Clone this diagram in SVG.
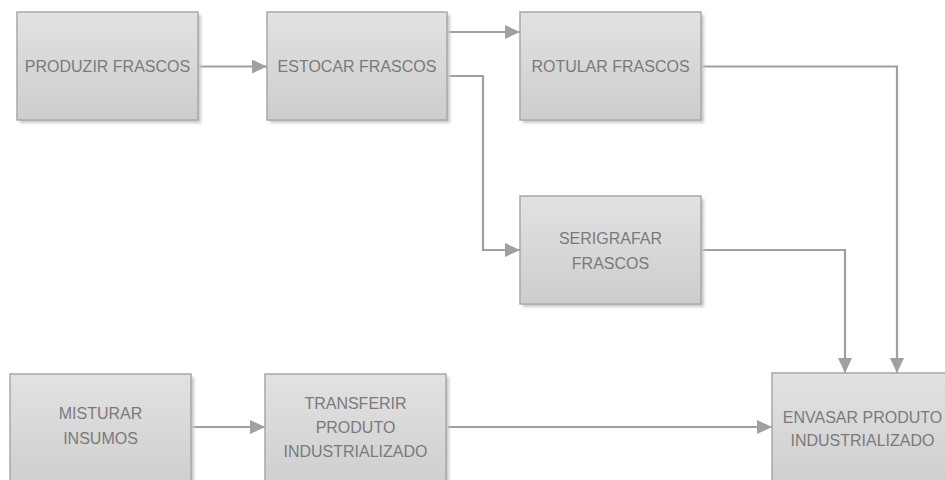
<svg xmlns="http://www.w3.org/2000/svg" width="945" height="480" viewBox="0 0 945 480">
<defs>
<linearGradient id="g" x1="0" y1="0" x2="0" y2="1">
<stop offset="0" stop-color="#e2e2e2"/>
<stop offset="1" stop-color="#cdcdcd"/>
</linearGradient>
<filter id="sh" x="-10%" y="-10%" width="130%" height="130%">
<feGaussianBlur stdDeviation="1.5"/>
</filter>
<marker id="ah" markerWidth="15" markerHeight="14" refX="15" refY="7" orient="auto" markerUnits="userSpaceOnUse">
<path d="M0,0 L15,7 L0,14 Z" fill="#a0a0a0"/>
</marker>
<style>
.sh{fill:#c8c8c8;filter:url(#sh)}
.bx{fill:url(#g);stroke:#a8a8a8;stroke-width:1.5}
.t{font-family:"Liberation Sans",Arial,sans-serif;font-size:16px;fill:#7a7a7a;text-anchor:middle;dominant-baseline:central}
.c{fill:none;stroke:#a0a0a0;stroke-width:2.2}
</style>
</defs>
<rect width="945" height="480" fill="#ffffff"/>
<g id="connectors">
<path class="c" d="M198,66.5 H267" marker-end="url(#ah)"/>
<path class="c" d="M447,32 H520" marker-end="url(#ah)"/>
<path class="c" d="M447,76 H483 V250 H520" marker-end="url(#ah)"/>
<path class="c" d="M701,66.5 H897 V373" marker-end="url(#ah)"/>
<path class="c" d="M701,250 H845 V373" marker-end="url(#ah)"/>
<path class="c" d="M191,427 H265" marker-end="url(#ah)"/>
<path class="c" d="M446,427 H772" marker-end="url(#ah)"/>
</g>
<g id="produzir">
<rect class="sh" x="20" y="15" width="181" height="108"/>
<rect class="bx" x="17" y="12" width="181" height="108"/>
<text class="t" x="107.5" y="66.5">PRODUZIR FRASCOS</text>
</g>
<g id="estocar">
<rect class="sh" x="270" y="15" width="180" height="108"/>
<rect class="bx" x="267" y="12" width="180" height="108"/>
<text class="t" x="357" y="66.5">ESTOCAR FRASCOS</text>
</g>
<g id="rotular">
<rect class="sh" x="523" y="15" width="181" height="108"/>
<rect class="bx" x="520" y="12" width="181" height="108"/>
<text class="t" x="610.5" y="66.5">ROTULAR FRASCOS</text>
</g>
<g id="serigrafar">
<rect class="sh" x="523" y="199" width="181" height="108"/>
<rect class="bx" x="520" y="196" width="181" height="108"/>
<text class="t" x="610.5" y="238">SERIGRAFAR</text>
<text class="t" x="610.5" y="263">FRASCOS</text>
</g>
<g id="misturar">
<rect class="sh" x="13" y="377" width="181" height="120"/>
<rect class="bx" x="10" y="374" width="181" height="120"/>
<text class="t" x="100.5" y="413">MISTURAR</text>
<text class="t" x="100.5" y="438">INSUMOS</text>
</g>
<g id="transferir">
<rect class="sh" x="268" y="377" width="181" height="120"/>
<rect class="bx" x="265" y="374" width="181" height="120"/>
<text class="t" x="355.5" y="403">TRANSFERIR</text>
<text class="t" x="355.5" y="427">PRODUTO</text>
<text class="t" x="355.5" y="451">INDUSTRIALIZADO</text>
</g>
<g id="envasar">
<rect class="sh" x="775" y="376" width="181" height="120"/>
<rect class="bx" x="772" y="373" width="181" height="120"/>
<text class="t" x="862.5" y="417">ENVASAR PRODUTO</text>
<text class="t" x="862.5" y="440">INDUSTRIALIZADO</text>
</g>
</svg>
